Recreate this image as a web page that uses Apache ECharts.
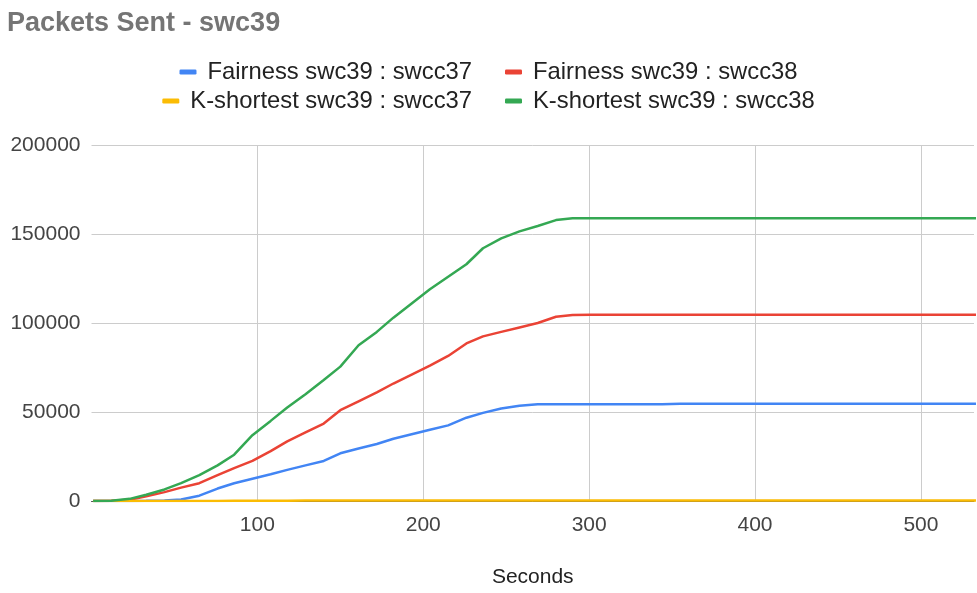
<!DOCTYPE html>
<html>
<head>
<meta charset="utf-8">
<title>Packets Sent - swc39</title>
<script src="https://cdn.jsdelivr.net/npm/echarts@6/dist/echarts.min.js"></script>
<style>
  html, body { margin: 0; padding: 0; background: #fff; }
  #chart { width: 977px; height: 593px; }
</style>
</head>
<body>
<div id="chart"></div>
<script>
// Elapsed time of each sample (seconds)
const seconds = [1, 12, 23, 33, 44, 54, 65, 76, 86, 97, 108, 118, 129, 140, 150, 161, 172, 182, 193, 204,
  215, 226, 236, 247, 258, 269, 280, 290, 301, 312, 323, 334, 344, 355, 366, 377, 388, 398, 409, 420,
  431, 442, 452, 463, 474, 485, 496, 506, 517, 528, 539];

// Cumulative packets sent, per routing strategy and destination
const fairness37 = [0, 0, 0, 100, 300, 800, 3000, 7000, 10000, 12500, 15000, 17500, 20000, 22500, 26800, 29500, 32000, 35000, 37500, 40000,
  42500, 46800, 49500, 52000, 53500, 54300, 54300, 54300, 54300, 54300, 54300, 54300, 54400, 54600, 54600, 54600, 54600, 54600, 54600, 54600,
  54600, 54600, 54600, 54600, 54600, 54600, 54600, 54600, 54600, 54600, 54600];
const fairness38 = [0, 100, 700, 2600, 5000, 7500, 10000, 14500, 18500, 22500, 28000, 33500, 38500, 43500, 51000, 56000, 61000, 66000, 71000, 76000,
  81500, 88500, 92500, 95000, 97500, 100000, 103500, 104500, 104700, 104700, 104700, 104700, 104700, 104700, 104700, 104700, 104700, 104700, 104700, 104700,
  104700, 104700, 104700, 104700, 104700, 104700, 104700, 104700, 104700, 104700, 104700];
const kshort37 = [0, 0, 0, 0, 0, 0, 0, 50, 100, 150, 200, 200, 250, 250, 300, 300, 300, 350, 350, 350,
  350, 350, 350, 350, 350, 350, 350, 350, 350, 350, 350, 350, 350, 350, 350, 350, 350, 350, 350, 350,
  350, 350, 350, 350, 350, 350, 350, 350, 350, 350, 350];
const kshort38 = [0, 200, 1200, 3500, 6500, 10000, 14500, 20000, 26000, 37000, 45000, 52500, 60000, 68000, 75500, 87500, 95000, 103000, 111000, 119000,
  126000, 133000, 142000, 147500, 151500, 154500, 157800, 158800, 158800, 158800, 158900, 158900, 158900, 158900, 158900, 158900, 158900, 158900, 158900, 158900,
  158900, 158900, 158900, 158900, 158900, 158900, 158900, 158900, 158900, 158900, 158900];

const seriesNames = ['Fairness swc39 : swcc37', 'Fairness swc39 : swcc38', 'K-shortest swc39 : swcc37', 'K-shortest swc39 : swcc38'];
const seriesValues = [fairness37, fairness38, kshort37, kshort38];
const seriesColors = ['#4285F4', '#EA4335', '#FBBC04', '#34A853'];

const FONT = 'Arial, "Liberation Sans", sans-serif';

const legendBase = {
  left: 'center',
  icon: 'roundRect',
  itemWidth: 17,
  itemHeight: 5,
  itemGap: 33,
  textStyle: { fontFamily: FONT, fontSize: 23.8, color: '#222', padding: [0, 0, 0, 6] }
};

const chart = echarts.init(document.getElementById('chart'), null, { renderer: 'canvas' });
chart.setOption({
  animation: false,
  backgroundColor: '#fff',
  color: seriesColors,
  title: {
    text: 'Packets Sent - swc39',
    left: 2,
    top: 5,
    textStyle: { fontFamily: FONT, fontSize: 27, fontWeight: 'bold', color: '#757575' }
  },
  legend: [
    Object.assign({}, legendBase, { top: 55, data: seriesNames.slice(0, 2) }),
    Object.assign({}, legendBase, { top: 84, data: seriesNames.slice(2, 4) })
  ],
  grid: { left: 91.5, right: 0, top: 145, bottom: 90, containLabel: false },
  xAxis: {
    type: 'value',
    min: 0,
    max: 532,
    interval: 100,
    name: 'Seconds',
    nameLocation: 'middle',
    nameGap: 66,
    nameTextStyle: { fontFamily: FONT, fontSize: 21, color: '#222' },
    axisLine: { show: true, lineStyle: { color: '#555', width: 1 } },
    axisTick: { show: false },
    axisLabel: {
      fontFamily: FONT, fontSize: 21, color: '#444', margin: 14,
      formatter: v => (v > 0 && v % 100 === 0 ? String(v) : '')
    },
    splitLine: { show: true, showMinLine: false, showMaxLine: false, lineStyle: { color: '#cccccc', width: 1 } }
  },
  yAxis: {
    type: 'value',
    min: 0,
    max: 200000,
    interval: 50000,
    axisLine: { show: false },
    axisTick: { show: false },
    axisLabel: { fontFamily: FONT, fontSize: 21, color: '#444', margin: 11, formatter: v => String(v) },
    splitLine: { show: true, lineStyle: { color: '#cccccc', width: 1 } }
  },
  series: seriesNames.map((name, i) => ({
    name: name,
    type: 'line',
    data: seconds.map((s, j) => [s, seriesValues[i][j]]),
    showSymbol: false,
    symbol: 'none',
    lineStyle: { width: 2.5, color: seriesColors[i] },
    itemStyle: { color: seriesColors[i] },
    clip: true,
    z: 2 + i
  }))
});
</script>
</body>
</html>
